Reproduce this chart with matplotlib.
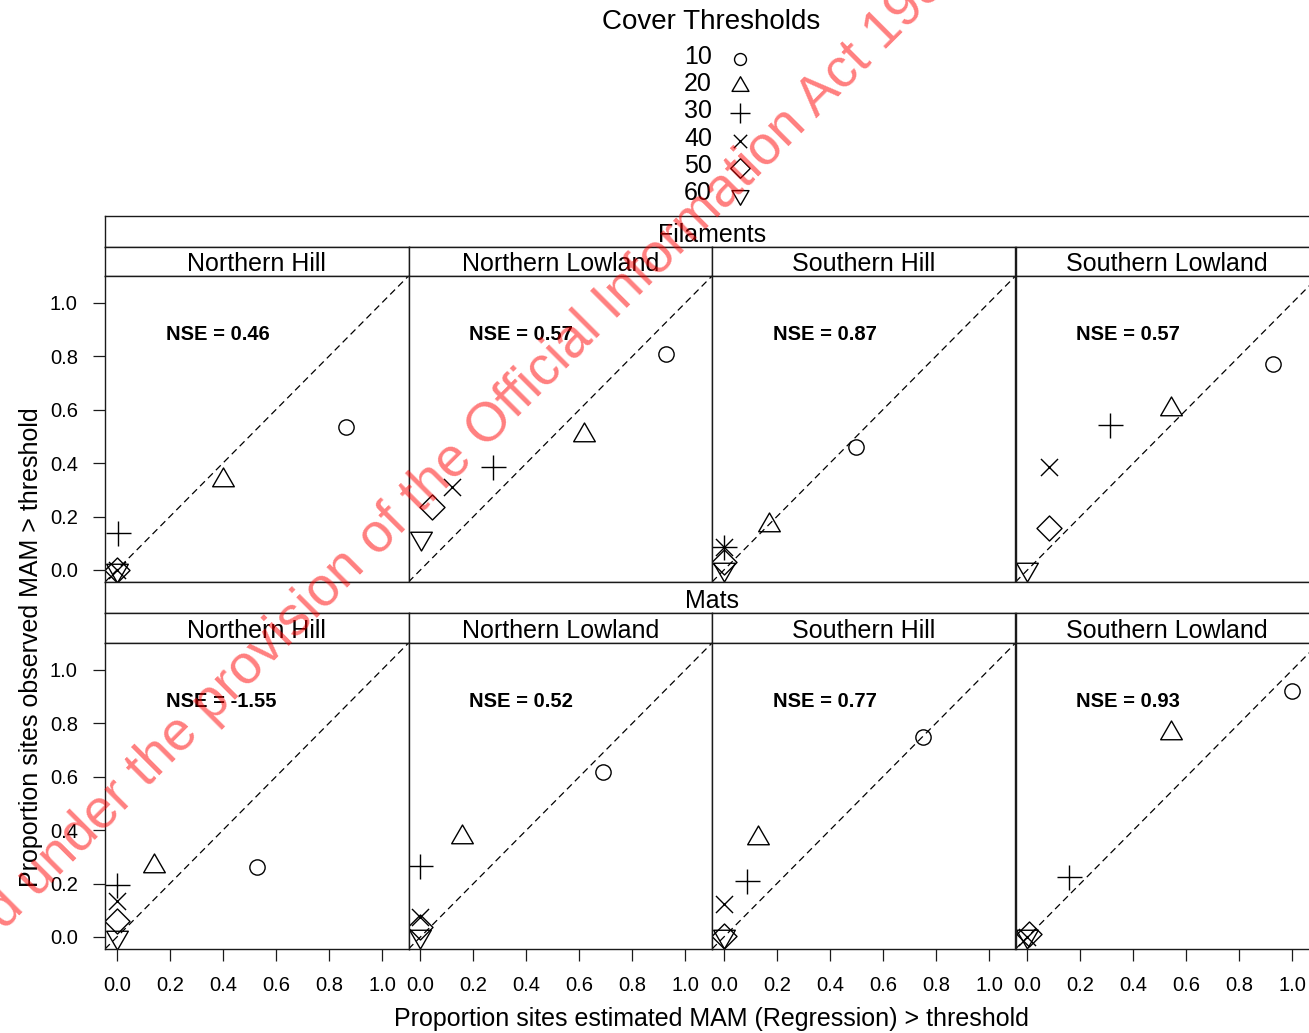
import matplotlib
matplotlib.use("Agg")
import matplotlib.pyplot as plt
from matplotlib.path import Path
from matplotlib.lines import Line2D

plt.rcParams["font.family"] = ["Liberation Sans", "DejaVu Sans"]

W, H = 1309, 1033

thresholds = ["10", "20", "30", "40", "50", "60"]
regions = ["Northern Hill", "Northern Lowland", "Southern Hill", "Southern Lowland"]
groups = ["Filaments", "Mats"]

# estimated (x) and observed (y) proportions, one row per region, one value per threshold
fil_est = [
    [0.863, 0.401, 0.005, 0.0, 0.0, 0.0],
    [0.925, 0.616, 0.274, 0.120, 0.044, 0.003],
    [0.498, 0.170, 0.0, 0.0, 0.0, 0.0],
    [0.926, 0.540, 0.313, 0.083, 0.083, 0.0],
]
fil_obs = [
    [0.535, 0.335, 0.138, 0.0, 0.0, 0.0],
    [0.809, 0.505, 0.387, 0.310, 0.237, 0.120],
    [0.462, 0.167, 0.087, 0.087, 0.030, 0.005],
    [0.772, 0.604, 0.541, 0.385, 0.156, 0.005],
]
fil_nse = [0.46, 0.57, 0.87, 0.57]

mat_est = [
    [0.530, 0.140, 0.0, 0.0, 0.0, 0.0],
    [0.688, 0.156, 0.0, 0.0, 0.0, 0.0],
    [0.750, 0.127, 0.088, 0.0, 0.0, 0.0],
    [0.999, 0.542, 0.158, 0.0, 0.005, 0.0],
]
mat_obs = [
    [0.263, 0.265, 0.195, 0.133, 0.060, 0.0],
    [0.618, 0.375, 0.267, 0.073, 0.038, 0.005],
    [0.749, 0.372, 0.208, 0.123, 0.005, 0.005],
    [0.922, 0.765, 0.226, 0.0, 0.010, 0.005],
]
mat_nse = [-1.55, 0.52, 0.77, 0.93]

# R style pch symbols 1..6
TRI_UP = Path([(0, 1), (0.866, -0.5), (-0.866, -0.5), (0, 1)], closed=True)
TRI_DN = Path([(0, -1), (0.866, 0.5), (-0.866, 0.5), (0, -1)], closed=True)
PLUS = Path([(-1, 0), (1, 0), (0, -1), (0, 1)],
            [Path.MOVETO, Path.LINETO, Path.MOVETO, Path.LINETO])
CROSS = Path([(-1, -1), (1, 1), (-1, 1), (1, -1)],
             [Path.MOVETO, Path.LINETO, Path.MOVETO, Path.LINETO])
DIAMOND = Path([(0, 1), (1, 0), (0, -1), (-1, 0), (0, 1)], closed=True)
MARKERS = ["o", TRI_UP, PLUS, CROSS, DIAMOND, TRI_DN]
SIZES = [11, 18, 18, 12.3, 18, 18]

LIM = (-0.045, 1.1)
TICKS = [0.0, 0.2, 0.4, 0.6, 0.8, 1.0]

fig = plt.figure(figsize=(W / 100, H / 100), dpi=100)


def box(x0, y0, x1, y1):
    # pixel box, origin top-left
    return fig.add_axes([x0 / W, 1 - y1 / H, (x1 - x0) / W, (y1 - y0) / H])


def strip(x0, y0, x1, y1, label):
    s = box(x0, y0, x1, y1)
    s.set_xticks([]); s.set_yticks([])
    for sp in s.spines.values():
        sp.set_linewidth(1.0); sp.set_color("0.1")
    s.text(0.5, 0.4, label, transform=s.transAxes, ha="center", va="center", fontsize=18)
    return s


cols = [105, 408.5, 712, 1015.5]
pw = 303.5
rows = [(216, 247, 276, 582), (582, 613, 643, 949)]
data = [(fil_est, fil_obs, fil_nse), (mat_est, mat_obs, mat_nse)]

for r, (gtop, rtop, ptop, pbot) in enumerate(rows):
    strip(cols[0], gtop, cols[-1] + pw, rtop, groups[r])
    est, obs, nse = data[r]
    for c, x0 in enumerate(cols):
        strip(x0, rtop, x0 + pw, ptop, regions[c])
        ax = box(x0, ptop, x0 + pw, pbot)
        ax.set_xlim(*LIM); ax.set_ylim(*LIM)
        for sp in ax.spines.values():
            sp.set_linewidth(1.0); sp.set_color("0.1")
        ax.axline((0, 0), (1, 1), color="k", lw=0.9, ls=(0, (5.5, 3.5)))
        for i in range(len(thresholds)):
            ax.plot(est[c][i], obs[c][i], ls="none", marker=MARKERS[i], ms=SIZES[i],
                    mfc="none", mec="k", mew=1.0)
        ax.text(0.185, 0.88, f"NSE = {nse[c]:.2f}", fontsize=14.5, fontweight="bold",
                ha="left", va="center")
        ax.set_xticks(TICKS); ax.set_yticks(TICKS)
        ax.tick_params(direction="out", length=8.6, width=0.9, labelsize=14.5, pad=11,
                       color="0.1")
        if c != 0:
            ax.tick_params(left=False, labelleft=False)
        if r == 0:
            ax.tick_params(bottom=False, labelbottom=False)

# key
fig.text(711 / W, 1 - 22 / H, "Cover Thresholds", ha="center", va="center", fontsize=20)
for i, lab in enumerate(thresholds):
    yy = 1 - (57 + 27.2 * i) / H
    fig.text(712 / W, yy, lab, ha="right", va="center", fontsize=18)
    fig.add_artist(Line2D([740 / W], [yy - 2 / H], transform=fig.transFigure, ls="none",
                          marker=MARKERS[i], ms=SIZES[i] * 0.78, mfc="none",
                          mec="k", mew=1.0))

fig.text(711 / W, 1 - 1019 / H, "Proportion sites estimated MAM (Regression) > threshold",
         ha="center", va="center", fontsize=18)
fig.text(31 / W, 1 - 647 / H, "Proportion sites observed MAM > threshold",
         ha="center", va="center", rotation=90, fontsize=18)

# watermark
fig.text(416 / W, 1 - 519 / H, "Released under the provision of the Official Information Act 1982",
         rotation=45, rotation_mode="anchor", ha="center", va="baseline",
         fontsize=39.5, color="red", alpha=0.5, zorder=50)

fig.savefig("out.png", dpi=100)
